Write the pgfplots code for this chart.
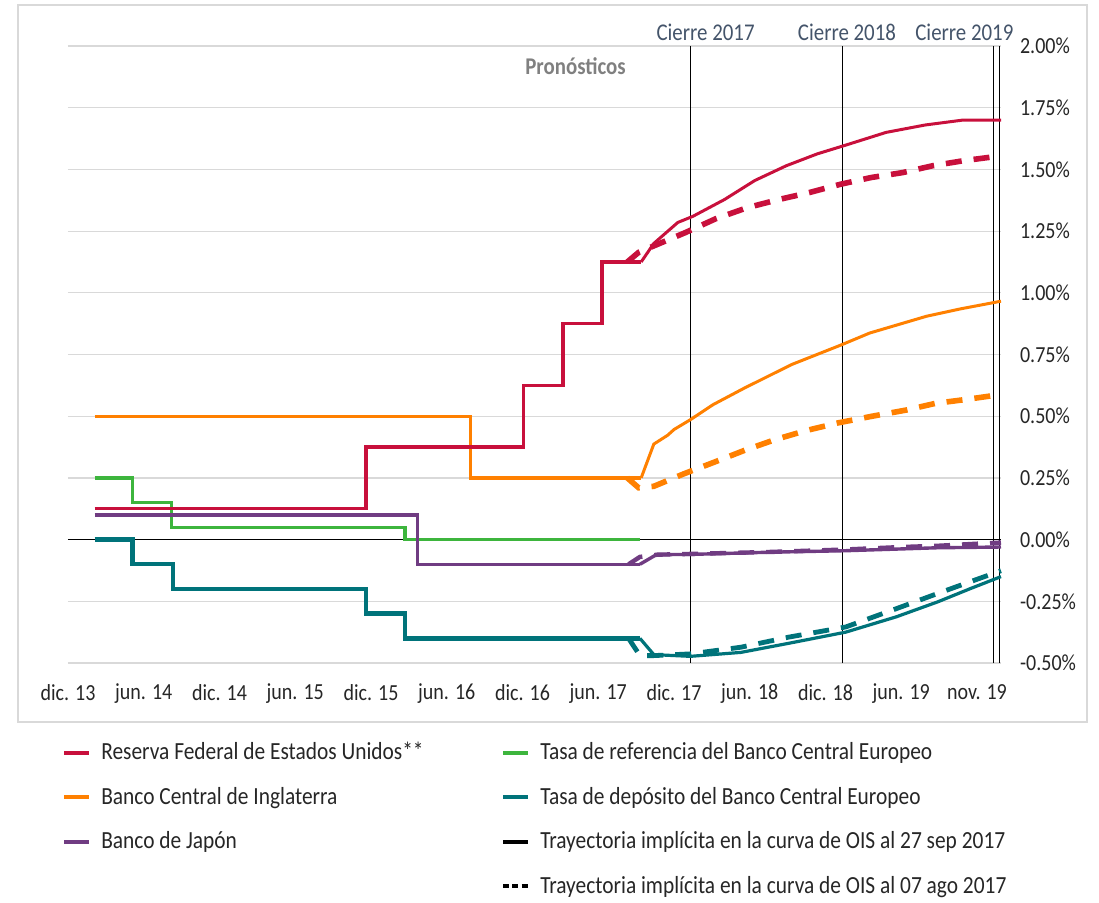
\documentclass[border=0pt]{standalone}
\usepackage{fontspec}
\setmainfont{Carlito}[FakeStretch=0.87]
\usepackage{pgfplots}
\pgfplotsset{compat=1.18}
\definecolor{fed}{HTML}{C8103C}
\definecolor{boe}{HTML}{FF8000}
\definecolor{boj}{HTML}{703C82}
\definecolor{ecbref}{HTML}{3DB53D}
\definecolor{ecbdep}{HTML}{00737A}
\definecolor{gridc}{HTML}{D9D9D9}
\definecolor{txt}{HTML}{262626}
\definecolor{cierre}{HTML}{44546A}
\newcommand{\lbl}{\fontsize{11.5}{13}\selectfont}
\newcommand{\leg}{\fontsize{12.3}{14}\selectfont}
\pgfplotsset{hist/.style={line width=1.6pt, const plot, forget plot},
  fc/.style={line width=1.5pt, forget plot},
  fcd/.style={line width=2.8pt, dash pattern=on 8pt off 6pt, forget plot}}

\begin{document}
\begin{tikzpicture}
\begin{axis}[
  scale only axis, width=466.5pt, height=308.5pt,
  xmin=0, xmax=73.9, ymin=-0.5, ymax=2,
  axis line style={draw=none}, major tick length=0pt,
  clip=false,
  ymajorgrids, grid style={gridc, line width=0.6pt},
  ytick={-0.5,-0.25,0,0.25,0.5,0.75,1,1.25,1.5,1.75,2},
  yticklabels={-0.50\%,-0.25\%,0.00\%,0.25\%,0.50\%,0.75\%,1.00\%,1.25\%,1.50\%,1.75\%,2.00\%},
  yticklabel pos=right,
  yticklabel style={anchor=west, xshift=6pt},
  xtick={0,6,12,18,24,30,36,42,48,54,60,66,72},
  xticklabels={dic. 13,jun. 14,dic. 14,jun. 15,dic. 15,jun. 16,dic. 16,jun. 17,dic. 17,jun. 18,dic. 18,jun. 19,nov. 19},
  xticklabel style={yshift=-7pt},
  ticklabel style={font=\lbl, text=txt},
  legend columns=2,
  legend cell align=left,
  legend image code/.code={\draw[#1] (0pt,0pt) -- (12.5pt,0pt);},
  legend style={draw=none, fill=none, font=\leg, text=txt,
    at={(-0.013,-0.115)}, anchor=north west, row sep=8.2pt,
    /tikz/every odd column/.append style={column sep=3pt}},
]
% ejes de referencia
\draw[black, line width=0.5pt] (axis cs:0,0) -- (axis cs:73.9,0);
\draw[black, line width=0.5pt] (axis cs:49.34,-0.5) -- (axis cs:49.34,2);
\draw[black, line width=0.5pt] (axis cs:61.35,-0.5) -- (axis cs:61.35,2);
\draw[black, line width=0.5pt] (axis cs:73.27,-0.5) -- (axis cs:73.27,2);
\draw[black, line width=0.5pt] (axis cs:73.77,-0.5) -- (axis cs:73.77,2);

% historico
\addplot[hist, ecbref] coordinates {(2.1,0.25)(5.1,0.15)(8.2,0.05)(26.7,0.0)(45.3,0.0)};
\addplot[hist, ecbdep, line width=2.2pt] coordinates {(2.1,0)(5.1,-0.10)(8.3,-0.20)(23.6,-0.30)(26.7,-0.40)(45.3,-0.40)};
\addplot[hist, boj] coordinates {(2.1,0.10)(27.7,-0.10)(45.3,-0.10)};
\addplot[hist, boe] coordinates {(2.1,0.5)(31.9,0.25)(45.4,0.25)};
\addplot[hist, fed] coordinates {(2.1,0.125)(23.6,0.375)(36.1,0.625)(39.2,0.875)(42.3,1.125)(45.4,1.125)};

% OIS 27 sep 2017
\addplot[fc, fed] coordinates {(45.4,1.125)(46.4,1.20)(48.3,1.285)(49.5,1.31)(52.0,1.378)(54.4,1.455)(56.9,1.515)(59.35,1.563)(61.7,1.60)(64.8,1.65)(67.9,1.68)(70.9,1.70)(73.9,1.70)};
\addplot[fc, boe] coordinates {(45.4,0.25)(46.4,0.387)(47.5,0.423)(48,0.446)(49.3,0.486)(51.1,0.547)(53.5,0.612)(57.3,0.709)(61.3,0.79)(63.5,0.837)(68.0,0.905)(70.7,0.935)(73.9,0.966)};
\addplot[fc, boj, line width=1.7pt] coordinates {(45.3,-0.10)(46.6,-0.061)(49.3,-0.06)(55.6,-0.051)(61.6,-0.045)(68.9,-0.033)(73.9,-0.03)};
\addplot[fc, ecbdep, line width=1.6pt] coordinates {(45.3,-0.40)(46.4,-0.466)(49.3,-0.473)(53.3,-0.457)(57.1,-0.42)(61.6,-0.375)(65.6,-0.313)(68.9,-0.252)(71.5,-0.198)(73.9,-0.15)};

% OIS 07 ago 2017
\addplot[fcd, fed] coordinates {(44.3,1.125)(45.2,1.164)(46.4,1.19)(48.9,1.244)(51.3,1.30)(53.8,1.345)(56.3,1.378)(58.7,1.406)(61.2,1.44)(63.6,1.467)(66.1,1.487)(68.5,1.515)(70.9,1.535)(73.9,1.555)};
\addplot[fcd, boe] coordinates {(44.3,0.25)(45.2,0.21)(46.4,0.216)(48.8,0.267)(51.2,0.314)(53.6,0.362)(56.0,0.405)(58.4,0.441)(61.0,0.473)(63.7,0.50)(66.4,0.525)(68.7,0.552)(71.3,0.569)(73.9,0.588)};
\addplot[fcd, boj, line width=2.2pt] coordinates {(44.4,-0.10)(45.3,-0.07)(46.7,-0.061)(49.3,-0.058)(55.6,-0.05)(61.6,-0.04)(66,-0.03)(68.9,-0.025)(72.6,-0.015)(73.9,-0.012)};
\addplot[fcd, ecbdep, line width=2.4pt] coordinates {(44.4,-0.40)(45.3,-0.47)(46.4,-0.47)(49.3,-0.463)(53.3,-0.436)(57.1,-0.395)(61.6,-0.354)(65.6,-0.28)(68.9,-0.218)(71.5,-0.17)(73.9,-0.126)};

\node[anchor=base, text=cierre, font=\fontsize{12}{14}\selectfont, yshift=3pt] at (axis cs:50.5,2) {Cierre 2017};
\node[anchor=base, text=cierre, font=\fontsize{12}{14}\selectfont, yshift=3pt] at (axis cs:61.7,2) {Cierre 2018};
\node[anchor=base, text=cierre, font=\fontsize{12}{14}\selectfont, yshift=3pt] at (axis cs:71.0,2) {Cierre 2019};
\node[anchor=base, text=gray, font=\fontsize{12}{14}\selectfont\bfseries] at (axis cs:40.2,1.886) {Pronósticos};

\addlegendimage{fed, line width=2pt}
\addlegendentry{\makebox[198pt][l]{Reserva Federal de Estados Unidos**}}
\addlegendimage{ecbref, line width=2pt}
\addlegendentry{Tasa de referencia del Banco Central Europeo}
\addlegendimage{boe, line width=2pt}
\addlegendentry{\makebox[198pt][l]{Banco Central de Inglaterra}}
\addlegendimage{ecbdep, line width=2pt}
\addlegendentry{Tasa de depósito del Banco Central Europeo}
\addlegendimage{boj, line width=2pt}
\addlegendentry{\makebox[198pt][l]{Banco de Japón}}
\addlegendimage{black, line width=2pt}
\addlegendentry{Trayectoria implícita en la curva de OIS al 27 sep 2017}
\addlegendimage{empty legend}
\addlegendentry{}
\addlegendimage{black, line width=2pt, dash pattern=on 3pt off 1.6pt}
\addlegendentry{Trayectoria implícita en la curva de OIS al 07 ago 2017}
\end{axis}
\draw[gridc, line width=0.6pt] (-25pt,329pt) rectangle (509.5pt,-29.5pt);
\pgfresetboundingbox
\path[use as bounding box] (-34pt,-119.5pt) rectangle (515.5pt,331.5pt);
\end{tikzpicture}
\end{document}
